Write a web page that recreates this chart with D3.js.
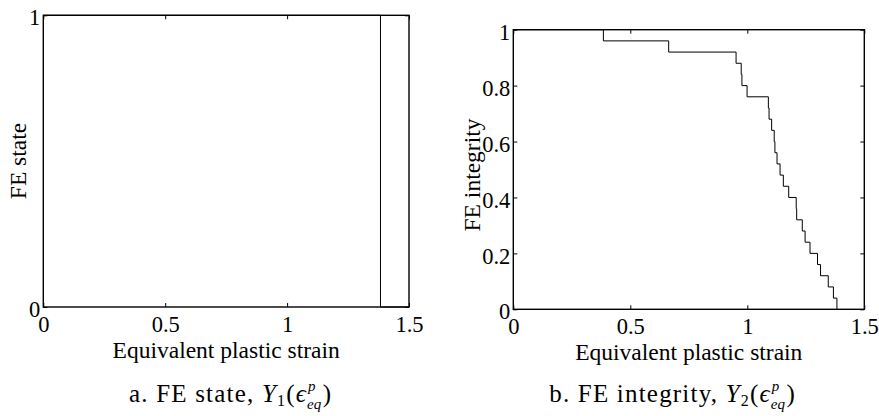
<!DOCTYPE html>
<html>
<head>
<meta charset="utf-8">
<script src="https://cdn.jsdelivr.net/npm/d3@7"></script>
<style>
  html, body { margin: 0; padding: 0; background: #fff; }
  svg { display: block; }
  text { font-family: "Liberation Serif", "Times New Roman", serif; fill: #000; }
</style>
</head>
<body>
<svg id="fig" width="879" height="416"></svg>
<script>
// Equivalent plastic strain at which each of the 25 sub-elements fails
const failureStrain = [0.385, 0.664, 0.952, 0.974, 0.977, 0.999, 1.090, 1.093, 1.104,
  1.115, 1.118, 1.127, 1.140, 1.154, 1.177, 1.209, 1.211, 1.235, 1.247, 1.268,
  1.300, 1.313, 1.346, 1.368, 1.383];
// Remaining integrity after each failure
const integrityAfter = [0.96, 0.92, 0.88, 0.84, 0.80, 0.76, 0.72, 0.68, 0.64, 0.60,
  0.56, 0.52, 0.48, 0.44, 0.40, 0.36, 0.32, 0.28, 0.24, 0.20, 0.16, 0.12, 0.08, 0.04, 0];
// Element state: alive (1) until full failure, then 0
const stateStrain = [0, 1.383, 1.5];
const stateValue = [1, 0, 0];

const xTicks = [0, 0.5, 1, 1.5];
const yTicksState = [0, 1];
const yTicksIntegrity = [0, 0.2, 0.4, 0.6, 0.8, 1];

const svg = d3.select("#fig");
const fmt = d3.format("~g");
const TICK_FS = 22.5, LABEL_FS = 23.5;

function panel(box, yTicks, ylabel, ylabelY, points) {
  const x = d3.scaleLinear().domain([0, 1.5]).range([box.x0, box.x1]);
  const y = d3.scaleLinear().domain([0, 1]).range([box.y1, box.y0]);
  const g = svg.append("g");

  const styleAxis = sel => {
    sel.select(".domain").remove();
    sel.selectAll(".tick line").attr("stroke", "#000").attr("stroke-width", 1);
    sel.selectAll("text").attr("font-size", TICK_FS);
  };

  g.append("g").attr("transform", `translate(0,${box.y1})`)
    .call(d3.axisBottom(x).tickValues(xTicks).tickFormat(fmt).tickSize(-4).tickSizeOuter(0).tickPadding(9))
    .call(styleAxis);
  g.append("g").attr("transform", `translate(0,${box.y0})`)
    .call(d3.axisTop(x).tickValues(xTicks).tickFormat("").tickSize(-4).tickSizeOuter(0))
    .call(styleAxis);
  g.append("g").attr("transform", `translate(${box.x0},0)`)
    .call(d3.axisLeft(y).tickValues(yTicks).tickFormat(fmt).tickSize(-4).tickSizeOuter(0).tickPadding(3))
    .call(styleAxis)
    .selectAll("text").attr("dy", "0.43em");
  g.append("g").attr("transform", `translate(${box.x1},0)`)
    .call(d3.axisRight(y).tickValues(yTicks).tickFormat("").tickSize(-4).tickSizeOuter(0))
    .call(styleAxis);

  // data curve
  g.append("path")
    .datum(points)
    .attr("fill", "none")
    .attr("stroke", "#000")
    .attr("stroke-width", 1)
    .attr("d", d3.line().x(d => x(d[0])).y(d => y(d[1])).curve(d3.curveStepAfter));

  // frame
  g.append("rect")
    .attr("x", box.x0).attr("y", box.y0)
    .attr("width", box.x1 - box.x0).attr("height", box.y1 - box.y0)
    .attr("fill", "none").attr("stroke", "#000").attr("stroke-width", 1.4);

  g.append("text")
    .attr("x", (box.x0 + box.x1) / 2).attr("y", box.y1 + 51)
    .attr("text-anchor", "middle").attr("font-size", LABEL_FS)
    .text("Equivalent plastic strain");

  g.append("text")
    .attr("transform", `translate(${box.ylabelX},${ylabelY}) rotate(-90)`)
    .attr("text-anchor", "middle").attr("font-size", LABEL_FS)
    .text(ylabel);
}

const statePoints = stateStrain.map((s, i) => [s, stateValue[i]]);
const integrityPoints = [[0, 1]].concat(failureStrain.map((s, i) => [s, integrityAfter[i]]));

panel({ x0: 43.3, x1: 409, y0: 15.3, y1: 307, ylabelX: 26 }, yTicksState, "FE state", 161, statePoints);
panel({ x0: 513.3, x1: 864.3, y0: 29.7, y1: 309.3, ylabelX: 480 }, yTicksIntegrity, "FE integrity", 175, integrityPoints);

// sub-figure captions with math notation: main line, then stacked super/subscript,
// the whole group centred on cx
function caption(cx, prefix, sub) {
  const fs = 25, ss = 15, base = 402;
  const g = svg.append("g");
  const t = g.append("text")
    .attr("x", 0).attr("y", base)
    .attr("font-size", fs)
    .attr("letter-spacing", 1.2);
  t.append("tspan").text(prefix);
  t.append("tspan").attr("font-style", "italic").text("Y");
  t.append("tspan").attr("font-size", ss + 1).attr("dy", 4).text(sub);
  t.append("tspan").attr("dy", -4).text("(");
  t.append("tspan").attr("font-style", "italic").text("\u03F5");
  const endMain = t.node().getComputedTextLength();
  g.append("text")
    .attr("x", endMain + 1).attr("y", base - 11)
    .attr("font-size", ss).attr("font-style", "italic")
    .text("p");
  const sub2 = g.append("text")
    .attr("x", endMain).attr("y", base + 7)
    .attr("font-size", ss).attr("font-style", "italic")
    .text("eq");
  const endSub = endMain + sub2.node().getComputedTextLength();
  const close = g.append("text")
    .attr("x", endSub + 1.5).attr("y", base)
    .attr("font-size", fs)
    .text(")");
  const total = endSub + 1.5 + close.node().getComputedTextLength();
  g.attr("transform", `translate(${cx - total / 2},0)`);
}
caption(230, "a.  FE state, ", "1");
caption(672, "b.  FE integrity, ", "2");
</script>
</body>
</html>
